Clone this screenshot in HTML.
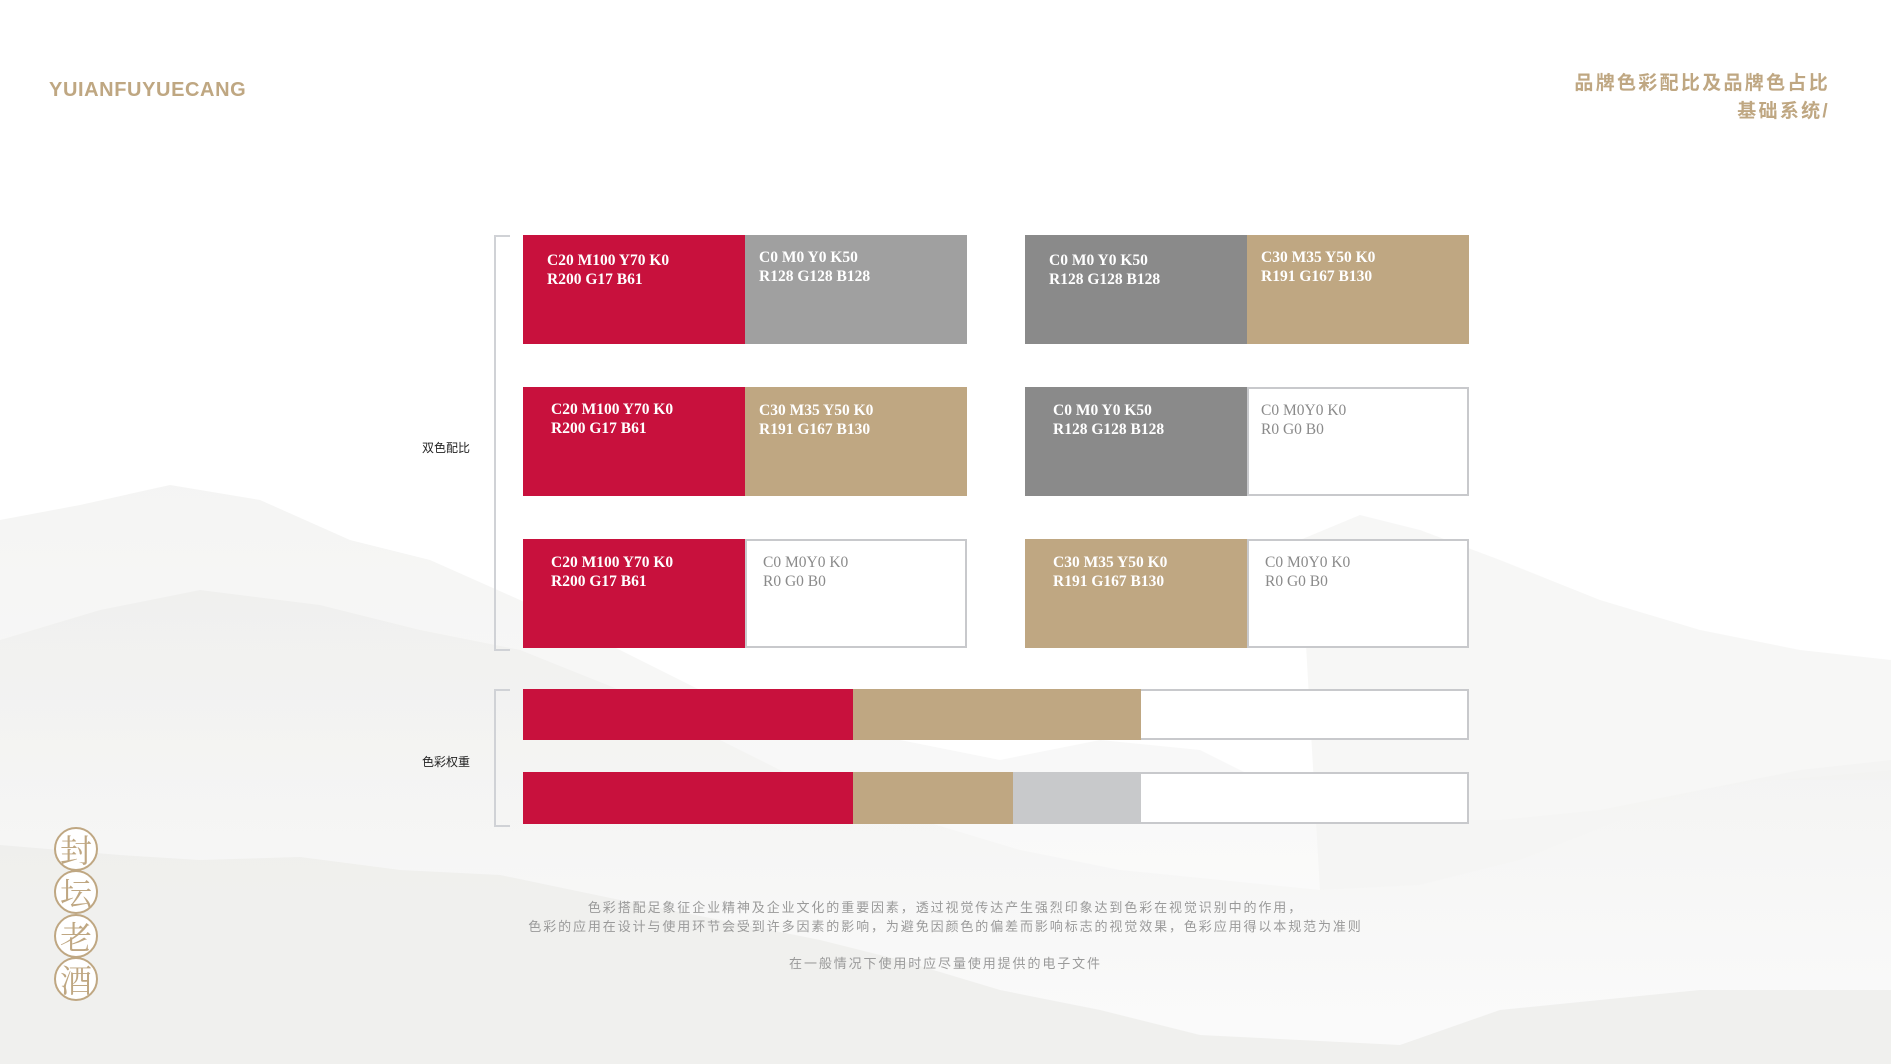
<!DOCTYPE html>
<html><head><meta charset="utf-8"><style>
body{margin:0;width:1891px;height:1064px;position:relative;overflow:hidden;background:#fff;font-family:"Liberation Sans","Noto Sans CJK SC",sans-serif}
.a{position:absolute}
.box{position:absolute;height:109px;box-sizing:border-box}
.t{position:absolute;font-family:"Liberation Serif","Noto Serif CJK SC",serif;font-size:15.5px;line-height:19px;font-weight:bold;color:#fff;white-space:nowrap}
.r{background:#C8113D}.g{background:#A0A0A0}.dg{background:#8A8A8A}.tan{background:#BFA782}
.w{background:#fff;border:2px solid #C8C9CC}
.tw{color:#8a8a8a;font-weight:normal}
.seal{position:absolute;left:54px;width:44px;height:44px;border:2px solid #BFA782;border-radius:50%;box-sizing:border-box;background:#fff;color:#BFA782;font-family:"Noto Serif CJK SC",serif;font-size:32px;line-height:40px;text-align:center}
</style></head><body>
<svg class="a" style="left:0;top:0" width="1891" height="1064">
<defs><linearGradient id="m" x1="0" y1="0" x2="0" y2="1"><stop offset="0" stop-color="#ececea"/><stop offset="1" stop-color="#fafafa"/></linearGradient></defs>
<path d="M0 520 L80 505 L170 485 L260 500 L350 540 L430 560 L520 600 L600 640 L700 690 L800 720 L900 740 L1000 760 L1100 740 L1200 750 L1300 800 L1400 820 L1500 820 L1600 810 L1700 790 L1800 770 L1891 760 L1891 1064 L0 1064Z" fill="url(#m)" opacity="0.55"/>
<path d="M0 640 L100 610 L200 590 L320 605 L420 630 L520 650 L620 690 L720 740 L820 790 L920 820 L1020 850 L1120 870 L1220 880 L1320 890 L1420 885 L1520 860 L1620 820 L1700 790 L1780 780 L1891 770 L1891 1064 L0 1064Z" fill="url(#m)" opacity="0.6"/>
<path d="M0 845 L120 855 L200 860 L300 857 L400 870 L500 875 L620 900 L720 920 L820 940 L900 960 L1000 990 L1100 1010 L1200 1035 L1300 1040 L1400 1045 L1500 1010 L1600 1000 L1700 990 L1891 990 L1891 1064 L0 1064Z" fill="#ededeb" opacity="0.8"/>
<path d="M1300 540 L1360 515 L1420 530 L1500 560 L1600 600 L1700 630 L1800 650 L1891 660 L1891 780 L1780 780 L1700 790 L1620 820 L1520 860 L1420 885 L1320 890 Z" fill="#f1f1f0" opacity="0.6"/>
</svg>
<div class="a" style="left:49px;top:79px;font-size:20px;font-weight:bold;color:#BFA782;letter-spacing:0.6px">YUIANFUYUECANG</div>
<div class="a" style="right:61px;top:70px;font-size:19px;font-weight:bold;color:#BFA782;letter-spacing:2.3px;line-height:28px;text-align:right">品牌色彩配比及品牌色占比<br>基础系统/</div>

<div class="a" style="left:494px;top:235px;width:14px;height:412px;border:2px solid #D0D2D6;border-right:none"></div>
<div class="a" style="left:494px;top:689px;width:14px;height:134px;border:2px solid #D0D2D6;border-right:none"></div>
<div class="a" style="left:422px;top:439px;font-size:12px;color:#222">双色配比</div>
<div class="a" style="left:422px;top:753px;font-size:12px;color:#222">色彩权重</div>

<div class="box r" style="left:523px;top:235px;width:222px"></div><div class="t" style="left:547px;top:251px">C20 M100 Y70 K0<br>R200 G17 B61</div>
<div class="box g" style="left:745px;top:235px;width:222px"></div><div class="t" style="left:759px;top:248px">C0 M0 Y0 K50<br>R128 G128 B128</div>
<div class="box dg" style="left:1025px;top:235px;width:222px"></div><div class="t" style="left:1049px;top:251px">C0 M0 Y0 K50<br>R128 G128 B128</div>
<div class="box tan" style="left:1247px;top:235px;width:222px"></div><div class="t" style="left:1261px;top:248px">C30 M35 Y50 K0<br>R191 G167 B130</div>

<div class="box r" style="left:523px;top:387px;width:222px"></div><div class="t" style="left:551px;top:400px">C20 M100 Y70 K0<br>R200 G17 B61</div>
<div class="box tan" style="left:745px;top:387px;width:222px"></div><div class="t" style="left:759px;top:401px">C30 M35 Y50 K0<br>R191 G167 B130</div>
<div class="box dg" style="left:1025px;top:387px;width:222px"></div><div class="t" style="left:1053px;top:401px">C0 M0 Y0 K50<br>R128 G128 B128</div>
<div class="box w" style="left:1247px;top:387px;width:222px"></div><div class="t tw" style="left:1261px;top:401px">C0 M0Y0 K0<br>R0 G0 B0</div>

<div class="box r" style="left:523px;top:539px;width:222px"></div><div class="t" style="left:551px;top:553px">C20 M100 Y70 K0<br>R200 G17 B61</div>
<div class="box w" style="left:745px;top:539px;width:222px"></div><div class="t tw" style="left:763px;top:553px">C0 M0Y0 K0<br>R0 G0 B0</div>
<div class="box tan" style="left:1025px;top:539px;width:222px"></div><div class="t" style="left:1053px;top:553px">C30 M35 Y50 K0<br>R191 G167 B130</div>
<div class="box w" style="left:1247px;top:539px;width:222px"></div><div class="t tw" style="left:1265px;top:553px">C0 M0Y0 K0<br>R0 G0 B0</div>

<div class="box w" style="left:1139px;top:689px;width:330px;height:51px"></div>
<div class="box r" style="left:523px;top:689px;width:330px;height:51px"></div>
<div class="box tan" style="left:853px;top:689px;width:288px;height:51px"></div>
<div class="box w" style="left:1139px;top:772px;width:330px;height:52px"></div>
<div class="box r" style="left:523px;top:772px;width:330px;height:52px"></div>
<div class="box tan" style="left:853px;top:772px;width:160px;height:52px"></div>
<div class="box" style="left:1013px;top:772px;width:128px;height:52px;background:#C8C9CB"></div>

<div class="a" style="left:0;width:1891px;top:898px;text-align:center;font-size:13px;line-height:19px;color:#9a9a9a;letter-spacing:1.9px">
<div>色彩搭配足象征企业精神及企业文化的重要因素，透过视觉传达产生强烈印象达到色彩在视觉识别中的作用，</div>
<div>色彩的应用在设计与使用环节会受到许多因素的影响，为避免因颜色的偏差而影响标志的视觉效果，色彩应用得以本规范为准则</div>
<div style="margin-top:18px">在一般情况下使用时应尽量使用提供的电子文件</div>
</div>

<div class="seal" style="top:827px">封</div>
<div class="seal" style="top:870px">坛</div>
<div class="seal" style="top:914px">老</div>
<div class="seal" style="top:957px">酒</div>
</body></html>
